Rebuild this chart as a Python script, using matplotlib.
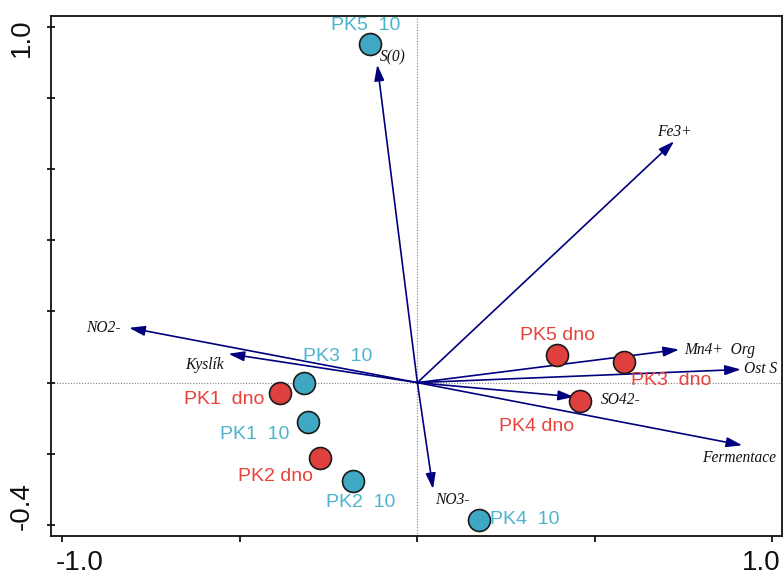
import matplotlib
matplotlib.use("Agg")
import matplotlib.pyplot as plt

# Site scores (ordination axes 1 and 2)
site_names = ["PK1  10", "PK2  10", "PK3  10", "PK4  10", "PK5  10",
              "PK1  dno", "PK2 dno", "PK3  dno", "PK4 dno", "PK5 dno"]
site_x = [-0.307, -0.180, -0.319, 0.174, -0.134,
          -0.387, -0.275, 0.582, 0.458, 0.392]
site_y = [-0.111, -0.275, 0.000, -0.385, 0.952,
          -0.029, -0.213, 0.057, -0.052, 0.079]
site_group = ["10", "10", "10", "10", "10",
              "dno", "dno", "dno", "dno", "dno"]

# Environmental variable arrows
env_names = ["S(0)", "Fe3+", "NO2-", "Kyslík", "Mn4+  Org",
             "Ost S", "SO42-", "Fermentace", "NO3-"]
env_x = [-0.113, 0.723, -0.812, -0.532, 0.737, 0.911, 0.441, 0.915, 0.044]
env_y = [0.893, 0.678, 0.154, 0.081, 0.093, 0.037, -0.040, -0.176, -0.299]

# Label placement (offsets in points, horizontal alignment)
site_label_pos = [(-39, -9, "center"), (5, -16, "center"), (24, 19, "center"),
                  (8, 0, "left"), (-3, 13, "center"),
                  (-40, -5, "center"), (-32, -13, "center"), (34, -13, "center"),
                  (-31, -18, "center"), (1, 14, "center")]
env_label_pos = [(2, 5, "left"), (0, 7, "center"), (-6, 0, "right"),
                 (-17, -8, "center"), (4, 0, "left"), (2, 0, "left"),
                 (19, -2, "left"), (-2, -9, "center"), (14, -8, "center")]

fill = {"10": "#3fa9c3", "dno": "#e0403d"}
text_col = {"10": "#4cb4cf", "dno": "#e8423b"}
navy = "#00007f"

fig = plt.figure(figsize=(7.83, 5.76), dpi=100)
ax = fig.add_axes([0.0651, 0.070, 0.9332, 0.9022])
ax.set_xlim(-1.032, 1.026)
ax.set_ylim(-0.430, 1.030)

# Dotted reference lines through the origin
ax.axhline(0, color="#808080", lw=0.8, ls=(0, (1, 1.5)), zorder=1)
ax.axvline(0, color="#808080", lw=0.8, ls=(0, (1, 1.5)), zorder=1)

# Arrows
for name, x, y, (dx, dy, ha) in zip(env_names, env_x, env_y, env_label_pos):
    ax.annotate("", xy=(x, y), xytext=(0, 0),
                arrowprops=dict(arrowstyle="-|>,head_length=0.95,head_width=0.3",
                                mutation_scale=10, color=navy, lw=1.2,
                                shrinkA=0, shrinkB=0),
                zorder=2)
    ax.annotate(name, xy=(x, y), xytext=(dx, dy), textcoords="offset points",
                ha=ha, va="center", fontsize=11.2, style="italic",
                family="Liberation Serif", color="#111111", zorder=4)

# Sites
for name, x, y, g, (dx, dy, ha) in zip(site_names, site_x, site_y, site_group,
                                       site_label_pos):
    ax.plot(x, y, "o", ms=15.8, mfc=fill[g], mec="#1a1a1a", mew=1.2, zorder=3)
    ax.annotate(name, xy=(x, y), xytext=(dx, dy), textcoords="offset points",
                ha=ha, va="center", fontsize=14, family="Liberation Sans",
                color=text_col[g], zorder=5)

# Axes frame and ticks
for s in ax.spines.values():
    s.set_linewidth(1.3)
    s.set_color("#111111")
ax.set_xticks([-1.0, -0.5, 0.0, 0.5, 1.0])
ax.set_yticks([-0.4, -0.2, 0.0, 0.2, 0.4, 0.6, 0.8, 1.0])
ax.set_xticklabels([])
ax.set_yticklabels([])
ax.tick_params(axis="x", direction="out", length=4, width=1.2)
ax.tick_params(axis="y", direction="inout", length=6, width=1.2)

# End labels of the axes
lab = dict(fontsize=20, family="Liberation Sans", color="#111111")
fig.text(79.5 / 783, 1 - 563 / 576, "-1.0", ha="center", va="center", **lab)
fig.text(780 / 783, 1 - 563 / 576, "1.0", ha="right", va="center", **lab)
fig.text(21.5 / 783, 1 - 37.5 / 576, "1.0", ha="center", va="center",
         rotation=90, **lab)
fig.text(21.5 / 783, 1 - 506 / 576, "-0.4", ha="center", va="center",
         rotation=90, **lab)

fig.savefig("out.png", dpi=100)
